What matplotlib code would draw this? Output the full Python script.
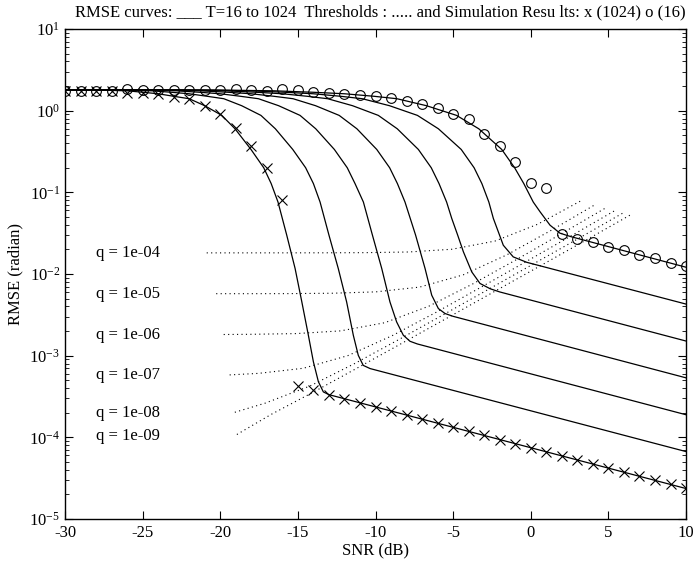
import numpy as np
import matplotlib
matplotlib.use('Agg')
import matplotlib.pyplot as plt
from matplotlib.ticker import FixedLocator, MultipleLocator, NullFormatter, LogFormatterMathtext

plt.rcParams['font.family'] = ['Liberation Serif', 'DejaVu Serif']
plt.rcParams['mathtext.fontset'] = 'stix'
plt.rcParams['axes.unicode_minus'] = False

# RMSE curves, T = 1024 ... 16 (snr in dB, rmse in radian)
snr_1024 = [-30, -28, -26, -25, -24, -23, -22, -21, -19.9, -19.05, -18.02, -17.2, -16.72, -16.28,
            -15.72, -15.18, -14.75, -14.33, -14.0, -13.68, -13.36, -13.0, 10]
rmse_1024 = [1.80, 1.79, 1.75, 1.68, 1.61, 1.50, 1.40, 1.15, 0.875, 0.60, 0.335, 0.20, 0.128, 0.076,
             0.030, 0.0117, 4.6e-3, 1.8e-3, 8.4e-4, 4.8e-4, 3.6e-4, 3.33e-4, 2.36e-5]

snr_512 = [-30, -26.7, -24.42, -23.17, -22.0, -20.85, -19.77, -18.62, -17.38, -16.45, -15.33, -14.5, -14.0,
           -13.57, -13.0, -12.40, -11.86, -11.43, -11.11, -10.79, -10.35, 10]
rmse_512 = [1.80, 1.79, 1.75, 1.68, 1.61, 1.50, 1.40, 1.15, 0.875, 0.60, 0.335, 0.20, 0.128,
            0.076, 0.030, 0.0117, 4.55e-3, 1.78e-3, 1.01e-3, 7.6e-4, 6.95e-4, 6.69e-5]

snr_256 = [-30, -25.4, -22.84, -21.34, -20.0, -18.7, -17.54, -16.24, -14.86, -13.85, -12.65, -11.82, -11.32,
           -10.78, -10.2, -9.60, -9.07, -8.64, -8.21, -7.78, -7.3, 10]
rmse_256 = [1.80, 1.79, 1.75, 1.68, 1.61, 1.50, 1.40, 1.15, 0.875, 0.60, 0.335, 0.20, 0.128,
            0.076, 0.030, 0.0117, 4.55e-3, 2.59e-3, 1.78e-3, 1.50e-3, 1.39e-3, 1.89e-4]

snr_128 = [-30, -24.1, -21.26, -19.51, -18.0, -16.55, -15.31, -13.86, -12.34, -11.2, -9.92, -9.09, -8.59,
           -8.10, -7.42, -6.81, -6.38, -5.95, -5.52, -5.0, 10]
rmse_128 = [1.80, 1.79, 1.75, 1.68, 1.61, 1.50, 1.40, 1.15, 0.875, 0.60, 0.335, 0.20, 0.128,
            0.076, 0.030, 0.0117, 5.5e-3, 3.77e-3, 3.28e-3, 3.03e-3, 5.35e-4]

snr_64 = [-30, -22.8, -19.68, -17.68, -16.0, -14.4, -13.08, -11.48, -9.82, -8.6, -7.24, -6.41, -5.91,
          -5.42, -5.09, -4.71, -4.34, -3.80, -3.27, -2.62, -2.0, 10]
rmse_64 = [1.80, 1.79, 1.75, 1.68, 1.61, 1.50, 1.40, 1.15, 0.875, 0.60, 0.335, 0.20, 0.128,
           0.076, 0.0479, 0.030, 0.0187, 0.0106, 7.66e-3, 6.6e-3, 6.03e-3, 1.51e-3]

snr_32 = [-30, -21.5, -18.1, -15.85, -14.0, -12.25, -10.85, -9.1, -7.3, -5.95, -4.48, -3.65, -3.15,
          -2.7, -2.41, -1.77, -1.13, -0.26, 10]
rmse_32 = [1.80, 1.79, 1.75, 1.68, 1.61, 1.50, 1.40, 1.15, 0.875, 0.60, 0.335, 0.20, 0.128,
           0.076, 0.0479, 0.0225, 0.0162, 0.0139, 4.28e-3]

snr_16 = [-30, -20.2, -16.52, -14.02, -12.0, -10.1, -8.62, -6.72, -4.78, -3.35, -1.87, -1.04, -0.45,
          0.16, 0.60, 1.24, 1.88, 2.6, 10]
rmse_16 = [1.80, 1.79, 1.75, 1.68, 1.61, 1.50, 1.40, 1.15, 0.875, 0.60, 0.335, 0.20, 0.128,
           0.076, 0.0577, 0.0396, 0.0316, 0.0286, 0.0121]

# threshold loci for each q
q_labels = ['q = 1e-04', 'q = 1e-05', 'q = 1e-06', 'q = 1e-07', 'q = 1e-08', 'q = 1e-09']
thr_snr = [
    [3.18, 0.45, -2.31, -5.07, -7.85, -10.64, -13.44, -16.25, -19.07, -21.0],
    [4.04, 1.25, -1.54, -4.35, -7.16, -9.98, -12.81, -15.65, -18.49, -20.45],
    [4.75, 1.93, -0.89, -3.73, -6.57, -9.41, -12.26, -15.12, -17.98, -19.91],
    [5.36, 2.52, -0.33, -3.18, -6.04, -8.91, -11.78, -14.65, -17.53, -19.48],
    [5.90, 3.04, 0.17, -2.70, -5.57, -8.45, -11.34, -14.22, -17.11, -19.16],
    [6.38, 3.50, 0.62, -2.27, -5.15, -8.04, -10.94, -13.84, -16.74, -19.05],
]
thr_rmse = [
    [0.0778, 0.0407, 0.0253, 0.0201, 0.0186, 0.01825, 0.01817, 0.01815, 0.01814, 0.01814],
    [0.0688, 0.0337, 0.01716, 9.76e-3, 6.91e-3, 6.04e-3, 5.81e-3, 5.75e-3, 5.74e-3, 5.74e-3],
    [0.0632, 0.0308, 0.01511, 7.57e-3, 4.03e-3, 2.53e-3, 2.01e-3, 1.863e-3, 1.826e-3, 1.815e-3],
    [0.0589, 0.0287, 0.01407, 6.93e-3, 3.44e-3, 1.763e-3, 1.001e-3, 7.01e-4, 6.07e-4, 5.8e-4],
    [0.0553, 0.0270, 0.01328, 6.53e-3, 3.22e-3, 1.593e-3, 8.01e-4, 4.25e-4, 2.62e-4, 2.0e-4],
    [0.0524, 0.0256, 0.01261, 6.21e-3, 3.06e-3, 1.511e-3, 7.47e-4, 3.72e-4, 1.90e-4, 1.05e-4],
]

# simulation results, one point per dB from -30 to 10
sim_snr = np.arange(-30, 11)
sim_1024 = [1.75, 1.75, 1.75, 1.75, 1.66, 1.66, 1.61, 1.49, 1.40, 1.13, 0.90, 0.61, 0.365, 0.198, 0.081,
            4.2e-4, 3.77e-4, 3.33e-4, 2.98e-4, 2.66e-4, 2.37e-4, 2.11e-4, 1.88e-4, 1.68e-4, 1.49e-4,
            1.33e-4, 1.19e-4, 1.06e-4, 9.4e-5, 8.4e-5, 7.5e-5, 6.7e-5, 5.95e-5, 5.3e-5, 4.7e-5,
            4.2e-5, 3.75e-5, 3.35e-5, 2.98e-5, 2.66e-5, 2.37e-5]
sim_16 = [1.75, 1.75, 1.75, 1.75, 1.84, 1.79, 1.77, 1.77, 1.77, 1.77, 1.77, 1.82, 1.77, 1.74, 1.85,
          1.77, 1.69, 1.66, 1.61, 1.57, 1.50, 1.44, 1.31, 1.19, 1.08, 0.92, 0.78, 0.52, 0.37, 0.234,
          0.131, 0.114, 0.0308, 0.0267, 0.0245, 0.0215, 0.0194, 0.0173, 0.0157, 0.0137, 0.0125]

y_decades = [1e-5, 1e-4, 1e-3, 1e-2, 1e-1, 1e0, 1e1]

curves = [(snr_1024, rmse_1024), (snr_512, rmse_512), (snr_256, rmse_256), (snr_128, rmse_128),
          (snr_64, rmse_64), (snr_32, rmse_32), (snr_16, rmse_16)]

fig = plt.figure(figsize=(6.95, 5.64), dpi=100)
ax = fig.add_axes([0.0935, 0.0798, 0.8936, 0.8688])

for s, r in curves:
    ax.plot(s, r, color='black', lw=0.9)

for s, r in zip(thr_snr, thr_rmse):
    ax.plot(s, r, color='black', lw=0.8, linestyle=(0, (1, 3)))

ax.plot(sim_snr, sim_1024, 'x', color='black', ms=7, mew=0.8)
ax.plot(sim_snr, sim_16, 'o', mfc='none', mec='black', ms=7, mew=0.8)

for lab, s, r in zip(q_labels, thr_snr, thr_rmse):
    ax.text(-23.9, r[-1], lab, ha='right', va='center', fontsize=12)

ax.set_yscale('log')
ax.set_xlim(-30, 10)
ax.set_ylim(1e-5, 1e1)
ax.xaxis.set_major_locator(MultipleLocator(5))
# keep only ticks inside the view so no hidden labels sit off the figure
minor_y = [m * d for d in y_decades[:-1] for m in range(2, 10)]
ax.yaxis.set_major_locator(FixedLocator(y_decades))
ax.yaxis.set_minor_locator(FixedLocator(minor_y))
ax.yaxis.set_minor_formatter(NullFormatter())
ax.yaxis.set_major_formatter(LogFormatterMathtext())
ax.tick_params(which='both', direction='in', top=True, right=True, labelsize=12)
ax.tick_params(which='major', length=6, width=0.8)
ax.tick_params(which='minor', length=3, width=0.6)
ax.tick_params(axis='x', pad=4)
for sp in ax.spines.values():
    sp.set_linewidth(1.0)

fig.text(380 / 695, 1 - 12 / 564,
         'RMSE curves: ___ T=16 to 1024  Thresholds : ..... and Simulation Resu lts: x (1024) o (16)',
         ha='center', va='center', fontsize=12)
ax.set_xlabel('SNR (dB)', fontsize=12, labelpad=1)
ax.set_ylabel('RMSE (radian)', fontsize=12, labelpad=4)

fig.savefig('out.png', dpi=100)
